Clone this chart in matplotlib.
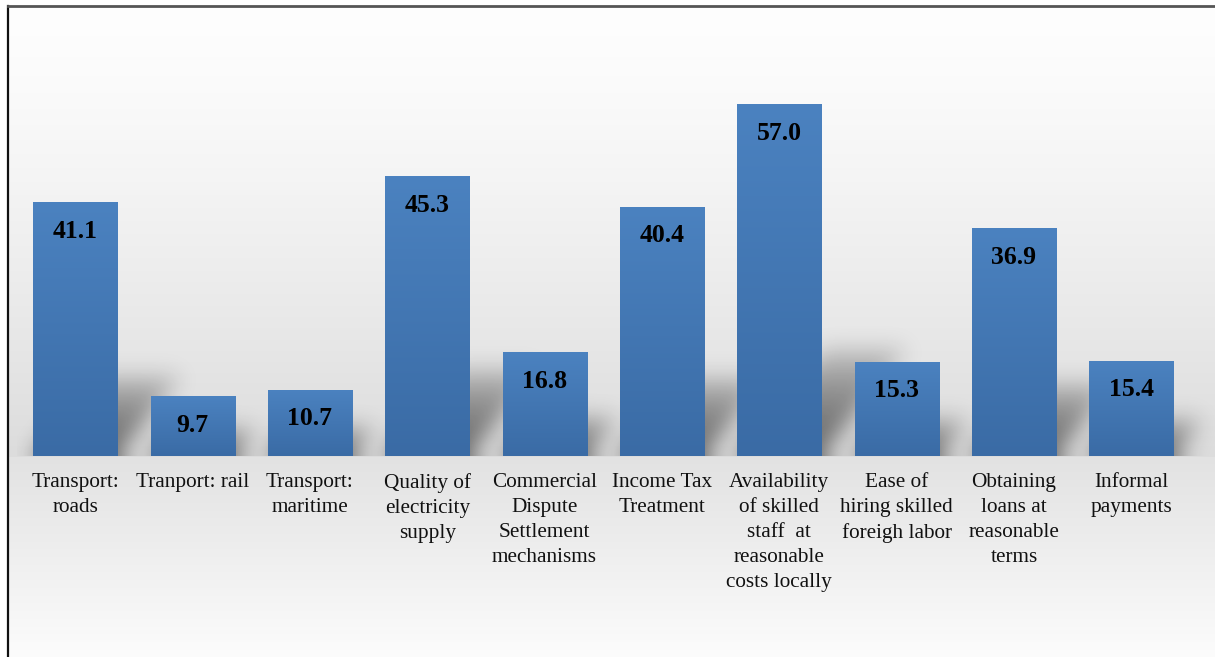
import numpy as np
import matplotlib
matplotlib.use("Agg")
import matplotlib.pyplot as plt
from matplotlib.lines import Line2D
from matplotlib.colors import to_rgb

categories = [
    "Transport:\nroads",
    "Tranport: rail",
    "Transport:\nmaritime",
    "Quality of\nelectricity\nsupply",
    "Commercial\nDispute\nSettlement\nmechanisms",
    "Income Tax\nTreatment",
    "Availability\nof skilled\nstaff  at\nreasonable\ncosts locally",
    "Ease of\nhiring skilled\nforeigh labor",
    "Obtaining\nloans at\nreasonable\nterms",
    "Informal\npayments",
]
values = [41.1, 9.7, 10.7, 45.3, 16.8, 40.4, 57.0, 15.3, 36.9, 15.4]

W, H, DPI = 1215, 657, 100
plt.rcParams["font.family"] = ["Liberation Serif", "DejaVu Serif"]

fig = plt.figure(figsize=(W / DPI, H / DPI), dpi=DPI)

# ---- background: soft vertical grey gradient darkest at the floor line ----
floor_px = 456          # pixel row of the bar baseline (from top)
frame_l, frame_t = 8, 6
rows = np.arange(H, dtype=float)
shade = np.empty(H)
up = rows <= floor_px
t_up = np.clip((rows[up] - frame_t) / (floor_px - frame_t), 0, 1)
shade[up] = 254 - (254 - 220) * t_up ** 1.3
t_dn = (rows[~up] - floor_px) / (H - floor_px)
shade[~up] = 226 + (252 - 226) * t_dn
bg = np.repeat(shade[:, None], W, axis=1)
bg[:frame_t, :] = 255
bg[:, :frame_l] = 255
bg_rgb = np.dstack([bg, bg, bg]) / 255.0
bg_ax = fig.add_axes([0, 0, 1, 1], zorder=-10)
bg_ax.imshow(bg_rgb, extent=[0, 1, 0, 1], aspect="auto", interpolation="bilinear")
bg_ax.set_axis_off()

# ---- plot axes ----
ax_left_px, ax_right_px = 16.5, 1190.0
ymax = 60.0
px_per_unit = (floor_px - 104) / 57.0
ax_top_px = floor_px - ymax * px_per_unit
ax = fig.add_axes([ax_left_px / W, (H - floor_px) / H,
                   (ax_right_px - ax_left_px) / W, (floor_px - ax_top_px) / H])
ax.patch.set_alpha(0)
for s in ax.spines.values():
    s.set_visible(False)

n = len(values)
x = np.arange(n)
bar_w = 0.716
xlim = (-0.5, n - 0.5)
ax.set_xlim(*xlim)
ax.set_ylim(0, ymax)

# ---- floor shadows cast by the bars ----
ax_w_px = ax_right_px - ax_left_px
ax_h_px = floor_px - ax_top_px
px_per_x = ax_w_px / (xlim[1] - xlim[0])
extra = 0.25                                   # let the last shadow run past the axes
sx0, sx1 = xlim[0], xlim[1] + extra
nx = int(round((sx1 - sx0) * px_per_x))
ny = int(round(ax_h_px))
pad = 50
mask = np.zeros((ny + pad, nx))
hh = np.arange(ny + pad) - pad          # height above floor in px (negative = mirrored)
cols = np.arange(nx) + 0.5
for xi, v in zip(x, values):
    bar_h = v * px_per_unit
    sh_h = 0.28 * bar_h + 12
    skew = 0.8 * sh_h
    x0 = (xi - bar_w / 2 - sx0) * px_per_x
    x1 = (xi + bar_w / 2 - sx0) * px_per_x
    for j, h in enumerate(hh):
        ha = abs(h)
        if ha > sh_h:
            continue
        f = ha / sh_h
        shift = skew * f
        wgt = (1 - f) ** 0.5
        sel = (cols >= x0 + shift) & (cols <= x1 + shift)
        mask[j, sel] = np.maximum(mask[j, sel], wgt)


def blur(a, sigma):
    r = int(3 * sigma)
    k = np.exp(-0.5 * (np.arange(-r, r + 1) / sigma) ** 2)
    k /= k.sum()
    a = np.apply_along_axis(lambda m: np.convolve(m, k, mode="same"), 0, a)
    a = np.apply_along_axis(lambda m: np.convolve(m, k, mode="same"), 1, a)
    return a


mask = blur(mask, 11.0)[pad:, :]
shadow = np.zeros((ny, nx, 4))
shadow[..., 3] = np.clip(0.55 * mask, 0, 1)
sh_im = ax.imshow(shadow, extent=[sx0, sx1, 0, ymax], origin="lower",
                  aspect="auto", zorder=1, interpolation="bilinear")
sh_im.set_clip_on(False)

# ---- bars with vertical gradient fill ----
top_c = np.array(to_rgb("#4b82c0"))
bot_c = np.array(to_rgb("#3a6ba5"))
grad = np.linspace(0, 1, 256)[:, None, None]
grad_img = np.repeat(top_c * (1 - grad) + bot_c * grad, 2, axis=1)

bars = ax.bar(x, values, width=bar_w, color="#4279b5", zorder=2, linewidth=0)
for b in bars:
    x0, y0 = b.get_x(), b.get_y()
    im = ax.imshow(grad_img, extent=[x0, x0 + b.get_width(), y0, y0 + b.get_height()],
                   origin="upper", aspect="auto", zorder=3, interpolation="bilinear")
    im.set_clip_path(b)

ax.set_xlim(*xlim)
ax.set_ylim(0, ymax)

# value labels inside the top of each bar
for xi, v in zip(x, values):
    ax.annotate(f"{v:.1f}", xy=(xi, v), xytext=(0, -29 * 72 / DPI),
                textcoords="offset points", ha="center", va="center",
                fontsize=18.5, fontweight="bold", color="black", zorder=5)

# category labels
ax.set_yticks([])
ax.set_xticks(x)
ax.set_xticklabels(categories, fontsize=15.3, color="#111111")
ax.tick_params(axis="x", length=0, pad=12.5)
for tl in ax.get_xticklabels():
    tl.set_linespacing(1.42)

# ---- outer frame lines (left and top) ----
fig.add_artist(Line2D([frame_l / W, frame_l / W], [0, 1 - frame_t / H],
                      transform=fig.transFigure, color="#111111", lw=1.6))
fig.add_artist(Line2D([frame_l / W, 1], [1 - frame_t / H, 1 - frame_t / H],
                      transform=fig.transFigure, color="#555555", lw=2.0))

fig.savefig("out.png", dpi=DPI)
